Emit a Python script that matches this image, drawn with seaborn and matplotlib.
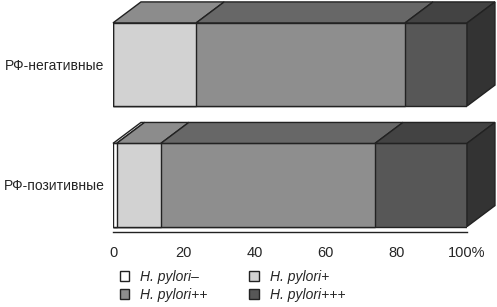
import numpy as np
import pandas as pd
import seaborn as sns
import matplotlib.pyplot as plt
from matplotlib.patches import Polygon, Patch

groups = ["РФ-негативные", "РФ-позитивные"]
series = ["H. pylori–", "H. pylori+", "H. pylori++", "H. pylori+++"]
neg_values = [0, 23.5, 59, 17.5]
pos_values = [1, 12.5, 60.5, 26]
xticks = [0, 20, 40, 60, 80, 100]
xtick_labels = ["0", "20", "40", "60", "80", "100%"]

front = ["#ffffff", "#d2d2d2", "#8e8e8e", "#575757"]
topc = ["#e8e8e8", "#8c8c8c", "#676767", "#434343"]
side = "#333333"

sns.set_style("white")
plt.rcParams['font.family'] = ['Liberation Sans', 'DejaVu Sans']

rows = []
for g, vals in zip(groups, [neg_values, pos_values]):
    cum = np.cumsum(vals)
    for s, v, c in zip(series, vals, cum):
        rows.append({"group": g, "series": s, "value": v, "cum": c})
df = pd.DataFrame(rows)

fig = plt.figure(figsize=(4.97, 3.07), dpi=100)
ax = fig.add_axes([113 / 497, 1 - 232 / 307, 354 / 497, 232 / 307])

bar_h = 0.69
# front faces, longest cumulative first so shorter ones sit on top
for i in reversed(range(len(series))):
    sub = df[df["series"] == series[i]]
    sns.barplot(data=sub, x="cum", y="group", order=groups, orient="h",
                color=front[i], saturation=1, width=bar_h,
                edgecolor="#222222", linewidth=1, ax=ax)

# 3d top and side faces
dx, dy = 7.9, 0.174
for gi, g in enumerate(groups):
    sub = df[df["group"] == g].reset_index(drop=True)
    yt = gi - bar_h / 2
    yb = gi + bar_h / 2
    left = 0
    for i, r in sub.iterrows():
        right = r["cum"]
        if r["value"] > 0:
            poly = Polygon([(left, yt), (right, yt), (right + dx, yt - dy), (left + dx, yt - dy)],
                           closed=True, facecolor=topc[i], edgecolor="#222222", lw=1, clip_on=False)
            ax.add_patch(poly)
        left = right
    poly = Polygon([(100, yt), (100, yb), (100 + dx, yb - dy), (100 + dx, yt - dy)],
                   closed=True, facecolor=side, edgecolor="#222222", lw=1, clip_on=False)
    ax.add_patch(poly)

ax.set_xlim(0, 100)
ax.set_ylim(1.39, -0.535)
ax.set_xticks(xticks)
ax.set_xticklabels(xtick_labels, fontsize=10.5)
ax.tick_params(axis="x", direction="out", length=4, width=1, color="#222222", pad=6)
ax.tick_params(axis="y", length=0, labelsize=10, pad=6)
ax.set_xlabel("")
ax.set_ylabel("")
for sp in ["top", "right", "left"]:
    ax.spines[sp].set_visible(False)
ax.spines["bottom"].set_color("#222222")
ax.spines["bottom"].set_linewidth(1)

handles = [Patch(facecolor=front[i], edgecolor="#222222", label=series[i]) for i in [0, 2, 1, 3]]
leg = fig.legend(handles=handles, ncol=2, frameon=False, loc="upper left",
                 bbox_to_anchor=(114 / 497, 1 - 264 / 307), fontsize=10,
                 handlelength=0.7, handleheight=0.7, handletextpad=0.8,
                 columnspacing=3.0, labelspacing=0.3, borderaxespad=0)
for t in leg.get_texts():
    t.set_fontstyle("italic")

fig.savefig("out.png", dpi=100)
